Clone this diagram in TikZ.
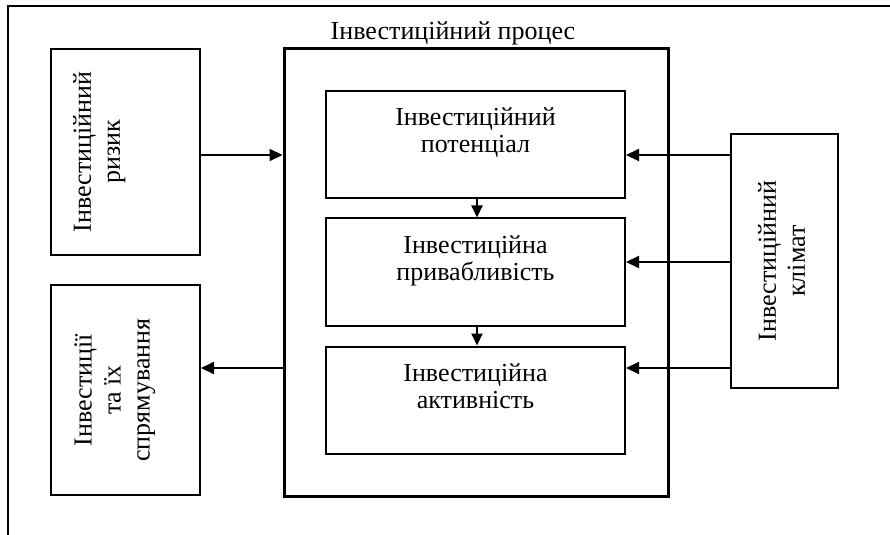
\documentclass[tikz,border=0pt]{standalone}
\usepackage{fontspec}
\setmainfont{Liberation Serif}
\usetikzlibrary{arrows.meta,positioning,calc}

\begin{document}
\begin{tikzpicture}[x=0.5pt, y=-0.5pt,
    font=\fontsize{13}{13.5}\selectfont,
    box/.style={draw, line width=1pt, align=center, inner sep=0pt},
    vbox/.style={box, rotate=90, font=\fontsize{13}{14.5}\selectfont},
    inbox/.style={box, minimum width=149.5pt, minimum height=53.5pt, text depth=14pt},
    arr/.style={line width=1pt, -{Triangle[length=6.5pt,width=6pt]}},
    darr/.style={line width=1pt, -{Triangle[length=6pt,width=5.5pt]}}]
        \useasboundingbox (0,0) rectangle (890,535);

        % Outer frame (top and left only)
        \draw[line width=1pt] (8,535) -- (8,6) -- (890,6);

        % Left blocks
        \node[vbox, minimum width=103pt, minimum height=74.5pt, text depth=29pt] (risk) at (125.5,152) {Інвестиційний\\ризик};
        \node[vbox, minimum width=105pt, minimum height=74.5pt, text depth=13.4pt] (invest) at (125.5,390) {Інвестиції\\та їх\\спрямування};

        % Process
        \node[box, line width=1.5pt, minimum width=192pt, minimum height=223.5pt] (process) at (476,272.5) {};
        \node[anchor=base] (title) at (453,40) {Інвестиційний процес};

        \node[inbox] (pot) at (475.5,144.5) {Інвестиційний\\потенціал};
        \node[inbox] (attr) at (475.5,272) {Інвестиційна\\привабливість};
        \node[inbox] (act) at (475.5,400) {Інвестиційна\\активність};

        % Climate
        \node[vbox, minimum width=127pt, minimum height=53.5pt, text depth=3pt] (clim) at (784.5,261) {Інвестиційний\\клімат};

        % Connections
        \coordinate (yA) at (0,155);
        \coordinate (yB) at (0,262);
        \coordinate (yC) at (0,368);
        \draw[arr] (risk.south |- yA) -- (process.west |- yA); % risk.south = right side (rotated)
        \draw[arr] (process.west |- yC) -- (invest.south |- yC);
        \draw[arr] (clim.north |- yA) -- (pot.east |- yA); % clim.north = left side (rotated)
        \draw[arr] (clim.north |- yB) -- (attr.east |- yB);
        \draw[arr] (clim.north |- yC) -- (act.east |- yC);
        \draw[darr] (pot.south -| 477,0) -- (attr.north -| 477,0);
        \draw[darr] (attr.south -| 477,0) -- (act.north -| 477,0);
    \end{tikzpicture}
\end{document}
